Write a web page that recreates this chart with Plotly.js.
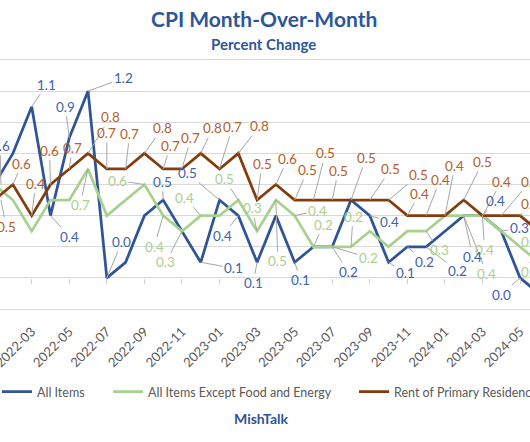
<!DOCTYPE html>
<html>
<head>
<meta charset="utf-8">
<script src="https://cdn.plot.ly/plotly-3.0.1.min.js"></script>
<style>html,body{margin:0;padding:0;background:#fff;}#chart{width:530px;height:442px;}</style>
</head>
<body>
<div id="chart"></div>
<script>
// ---- data ----
const months = ['2022-01','2022-02','2022-03','2022-04','2022-05','2022-06','2022-07','2022-08','2022-09','2022-10','2022-11','2022-12',
                '2023-01','2023-02','2023-03','2023-04','2023-05','2023-06','2023-07','2023-08','2023-09','2023-10','2023-11','2023-12',
                '2024-01','2024-02','2024-03','2024-04','2024-05','2024-06'];
const allItems    = [0.6,0.8,1.1,0.4,0.9,1.2,0.0,0.1,0.4,0.5,0.3,0.1, 0.5,0.4,0.1,0.4,0.1,0.2,0.2,0.5,0.4,0.1,0.2,0.2, 0.3,0.4,0.4,0.3,0.0,-0.1];
const coreItems   = [0.6,0.5,0.3,0.5,0.5,0.7,0.4,0.5,0.6,0.4,0.3,0.4, 0.4,0.5,0.3,0.5,0.4,0.2,0.2,0.2,0.3,0.2,0.3,0.3, 0.4,0.4,0.4,0.3,0.2,0.1];
const rentPrimary = [0.5,0.6,0.4,0.6,0.7,0.8,0.7,0.7,0.8,0.7,0.7,0.8, 0.7,0.8,0.5,0.6,0.5,0.5,0.5,0.5,0.5,0.5,0.4,0.4, 0.4,0.5,0.4,0.4,0.4,0.3];
const tickMonths  = ['2022-03','2022-05','2022-07','2022-09','2022-11','2023-01','2023-03','2023-05','2023-07','2023-09','2023-11','2024-01','2024-03','2024-05'];
const seriesNames = ['All Items','All Items Except Food and Energy','Rent of Primary Residence'];

// ---- label placement (pixel offsets of label centre from its point; style only) ----
const blueLabelPos = {0:[1,-39],2:[15,-22],3:[19,21],4:[-4,-31],5:[35,-13],6:[15,-36],9:[-1,-18],11:[33,6],12:[-32,-27],13:[-16,20],
  14:[-4,21],16:[6,18],18:[16,25],20:[20,6],21:[17,11],22:[17,15],23:[31,24],25:[9,41],26:[13,-15],27:[18,-3],28:[-19,17]};
const greenLabelPos = {5:[-8,36],8:[-27,-4],9:[-9,31],10:[-16,31],11:[-16,-18],13:[-14,-21],14:[-5,-23],15:[2,61],16:[23,-5],
  17:[10,-22],18:[36,11],19:[2,-30],23:[13,19],25:[23,58],26:[2,34],28:[14,-5],29:[-4,10]};
const brownLabelPos = {0:[12,27],1:[9,-21],2:[4,-32],3:[-1,-34],4:[3,-21],5:[22,-36],6:[0,-36],7:[4,-35],8:[18,-25],9:[7,-23],10:[9,-31],
  11:[12,-25],12:[13,-42],13:[21,-27],14:[5,-36],15:[12,-26],16:[13,-30],17:[12,-47],18:[6,-29],19:[15,-42],20:[21,-31],21:[30,-25],
  22:[12,-22],23:[14,-36],24:[10,-50],25:[19,-38],26:[19,-34],27:[32,-34],28:[18,-12]};

const xRange = [0.312, 28.53];
const FONT = 'Lato, "Open Sans", sans-serif';
const BLUE = '#2f5597', GREEN = '#a9d18e', BROWN = '#843c0c';

function line(name, y, color, legend) {
  return {x: months, y: y, name: name, type: 'scatter', mode: 'lines', legend: legend,
          line: {color: color, width: 2.75}, hoverinfo: 'skip'};
}
const traces = [
  line(seriesNames[0], allItems, BLUE, 'legend'),
  line(seriesNames[1], coreItems, GREEN, 'legend2'),
  line(seriesNames[2], rentPrimary, BROWN, 'legend3'),
  {x: months, y: months.map(() => null), xaxis: 'x2', yaxis: 'y', showlegend: false, hoverinfo: 'skip', mode: 'lines'}
];

const annotations = [];
function addLabels(values, pos, color) {
  Object.keys(pos).forEach(k => {
    const i = +k; const [dx, dy] = pos[k];
    const a = {text: values[i].toFixed(1), y: values[i], yref: 'y', ax: dx, ay: dy,
      showarrow: true, arrowhead: 0, arrowwidth: 1, arrowcolor: '#a6a6a6', standoff: 0,
      font: {family: FONT, size: 13.5, color: color}};
    if (i >= xRange[0] && i <= xRange[1]) { a.x = months[i]; a.xref = 'x'; }
    else { a.x = (i - xRange[0]) / (xRange[1] - xRange[0]); a.xref = 'paper'; }
    annotations.push(a);
  });
}
addLabels(rentPrimary, brownLabelPos, '#b5602a');
addLabels(coreItems, greenLabelPos, '#a9d18e');
addLabels(allItems, blueLabelPos, '#3d63ad');

const plotBottom = 442 - 133, plotH = 249;
const py = px => (plotBottom - px) / plotH;
annotations.push({text: '<b>CPI Month-Over-Month</b>', xref: 'paper', yref: 'paper', x: 0.498, y: py(19), showarrow: false,
  xanchor: 'center', yanchor: 'middle', font: {family: FONT, size: 21, color: BLUE}});
annotations.push({text: '<b>Percent Change</b>', xref: 'paper', yref: 'paper', x: 0.498, y: py(44), showarrow: false,
  xanchor: 'center', yanchor: 'middle', font: {family: FONT, size: 15, color: BLUE}});
annotations.push({text: '<b>MishTalk</b>', xref: 'paper', yref: 'paper', x: 0.493, y: py(418), showarrow: false,
  xanchor: 'center', yanchor: 'middle', font: {family: FONT, size: 14, color: BLUE}});

function legendAt(xpx) {
  return {orientation: 'h', x: xpx / 530, y: py(392), xanchor: 'left', yanchor: 'middle', bgcolor: 'rgba(0,0,0,0)',
          font: {family: FONT, size: 12.5, color: '#595959'}};
}

const layout = {
  width: 530, height: 442,
  margin: {l: 0, r: 0, t: 60, b: 133, autoexpand: false},
  paper_bgcolor: '#fff', plot_bgcolor: '#fff',
  showlegend: true,
  legend: legendAt(-3), legend2: legendAt(108), legend3: legendAt(354),
  xaxis: {type: 'category', categoryorder: 'array', categoryarray: months, range: xRange,
    tickmode: 'array', tickvals: tickMonths, ticktext: tickMonths, tickangle: -45, ticks: '', ticklabelstandoff: 9,
    showgrid: false, zeroline: false, showline: true, mirror: true, linecolor: '#d9d9d9', linewidth: 1,
    tickfont: {family: FONT, size: 13, color: '#595959'}, fixedrange: true},
  xaxis2: {type: 'category', categoryorder: 'array', categoryarray: months, range: xRange, overlaying: 'x',
    anchor: 'free', position: 0.125, side: 'bottom', tickmode: 'array', tickvals: tickMonths,
    ticks: 'outside', ticklen: 5, tickcolor: '#d0d0d0', tickwidth: 1, showticklabels: false,
    showgrid: false, zeroline: false, showline: false, fixedrange: true},
  yaxis: {range: [-0.2, 1.4], tick0: 0, dtick: 0.2, showticklabels: false, gridcolor: '#d9d9d9', gridwidth: 1,
    zeroline: false, showline: false, fixedrange: true},
  annotations: annotations
};

Plotly.newPlot('chart', traces, layout, {staticPlot: true, displayModeBar: false});
</script>
</body>
</html>
